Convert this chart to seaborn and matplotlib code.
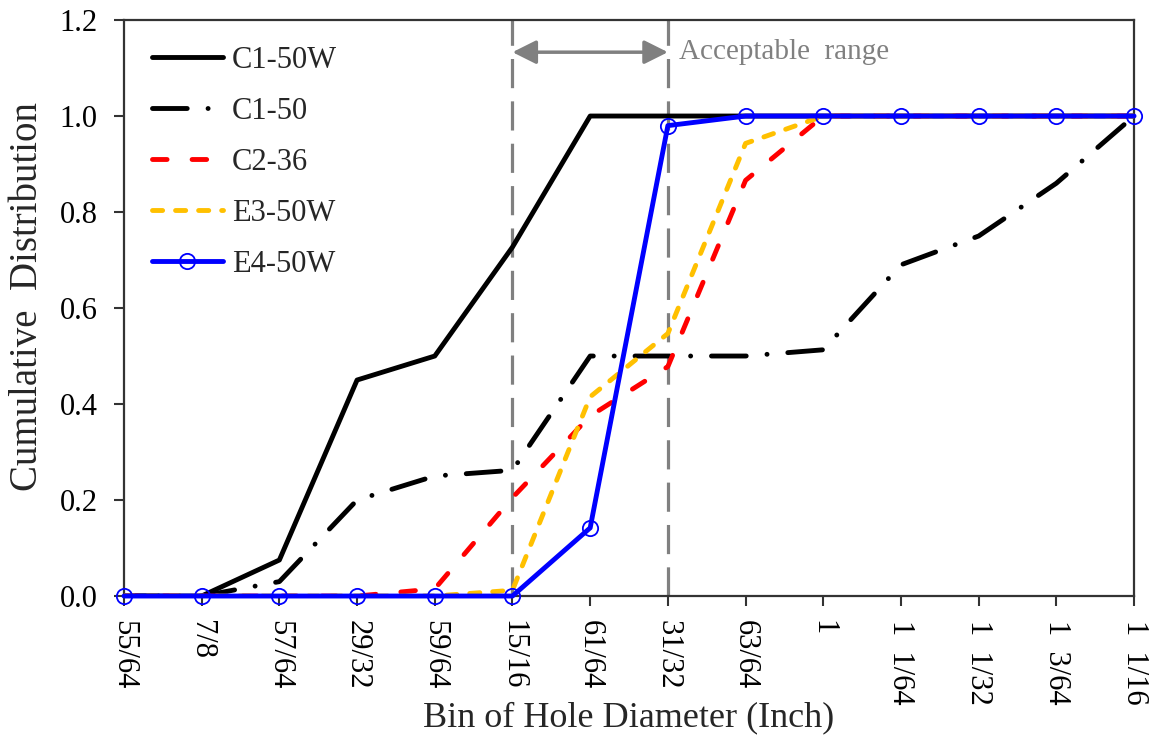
import numpy as np
import matplotlib
matplotlib.use("Agg")
import matplotlib.pyplot as plt
import seaborn as sns

# ---- data ----
bins = ["55/64", "7/8", "57/64", "29/32", "59/64", "15/16", "61/64", "31/32",
        "63/64", "1", "1  1/64", "1  1/32", "1  3/64", "1  1/16"]
c1_50w = [0, 0, 0.075, 0.45, 0.50, 0.727, 1.0, 1.0, 1.0, 1.0, 1.0, 1.0, 1.0, 1.0]
c1_50 = [0, 0, 0.03, 0.20, 0.25, 0.262, 0.50, 0.50, 0.50, 0.513, 0.69, 0.75, 0.86, 1.0]
c2_36 = [0, 0, 0, 0, 0.015, 0.205, 0.375, 0.478, 0.866, 1.0, 1.0, 1.0, 1.0, 1.0]
e3_50w = [0, 0, 0, 0, 0, 0.012, 0.415, 0.547, 0.943, 1.0, 1.0, 1.0, 1.0, 1.0]
e4_50w = [0, 0, 0, 0, 0, 0, 0.142, 0.98, 1.0, 1.0, 1.0, 1.0, 1.0, 1.0]
range_lo, range_hi = "15/16", "31/32"
yticks = [0.0, 0.2, 0.4, 0.6, 0.8, 1.0, 1.2]

sns.set_theme(style="ticks")
plt.rcParams["font.family"] = ["Liberation Serif", "DejaVu Serif"]
plt.rcParams["lines.scale_dashes"] = False

fig = plt.figure(figsize=(11.51, 7.5), dpi=100)
ax = fig.add_axes([0.1077, 0.2053, 0.8776, 0.768])

x = np.arange(len(bins))
lo = bins.index(range_lo)
hi = bins.index(range_hi)

for xv in (lo, hi):
    ax.axvline(xv, color="#808080", lw=2.3, dashes=(21, 9.5), zorder=1)

LW = 3.5
series = [
    ("C1-50W", c1_50w, "black", None),
    ("C1-50", c1_50, "black", (25, 15, 0.05, 15)),
    ("C2-36", c2_36, "#FF0000", (10.5, 18)),
    ("E3-50W", e3_50w, "#FFC000", (7.3, 9.3)),
]
for name, vals, col, dash in series:
    sns.lineplot(x=x, y=vals, ax=ax, color=col, lw=LW, label=name, zorder=3)
    ln = ax.lines[-1]
    if dash is not None:
        ln.set_dashes(dash)
        ln.set_dash_capstyle("round")

sns.lineplot(x=x, y=e4_50w, ax=ax, color="#0000FF", lw=LW, label="E4-50W",
             marker="o", markersize=11, markerfacecolor="none",
             markeredgecolor="#0000FF", markeredgewidth=1.3, zorder=4)
ax.lines[-1].set_clip_on(False)

# acceptable range arrow + text
ax.annotate("", xy=(lo, 1.133), xytext=(hi, 1.133),
            arrowprops=dict(arrowstyle="<|-|>", color="#808080", lw=2.5,
                            mutation_scale=36, shrinkA=0, shrinkB=0))
ax.text(hi + 0.14, 1.133, "Acceptable  range", color="#808080", fontsize=21,
        va="center", ha="left")

ax.set_xlim(0, len(bins) - 1)
ax.set_ylim(0, 1.2)
ax.set_yticks(yticks)
ax.set_yticklabels([f"{v:.1f}" for v in yticks])
ax.set_xticks(x)
ax.set_xticklabels(bins, rotation=270, ha="center", va="top")

ax.tick_params(axis="both", labelsize=22, direction="out", length=7, width=1.5,
               color="#333333", labelcolor="black")
ax.tick_params(axis="y", pad=12)
ax.tick_params(axis="x", pad=10)
for sp in ax.spines.values():
    sp.set_visible(True)
    sp.set_color("#333333")
    sp.set_linewidth(1.6)

ax.set_xlabel("Bin of Hole Diameter (Inch)", fontsize=26)
ax.xaxis.set_label_coords(0.5, -0.182)
ax.set_ylabel("Cumulative  Distribution", fontsize=28)
ax.yaxis.set_label_coords(-0.077, 0.52)

ax.legend(loc="upper left", bbox_to_anchor=(0.028, 0.955), frameon=False,
          fontsize=22, handlelength=2.3, handletextpad=0.3, labelspacing=0.72,
          borderaxespad=0, borderpad=0)

fig.savefig("out.png", dpi=100)
